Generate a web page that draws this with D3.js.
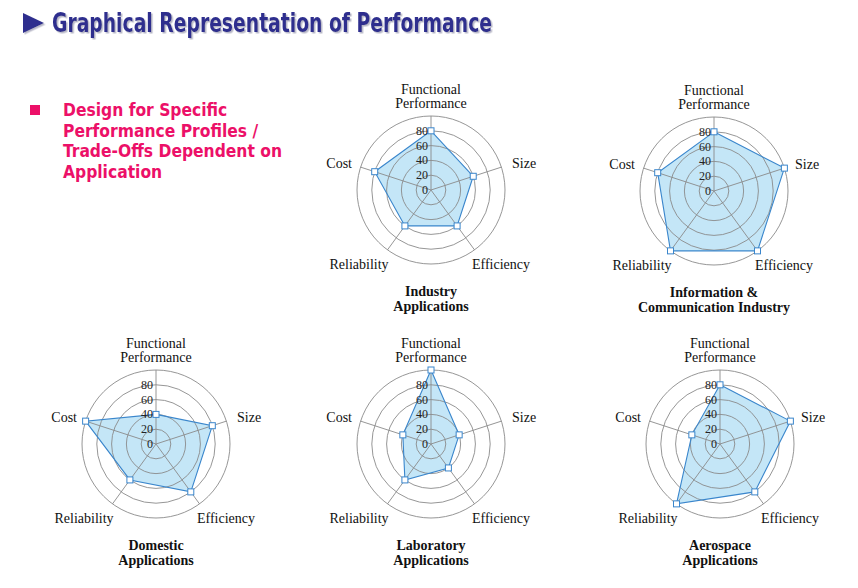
<!DOCTYPE html>
<html>
<head>
<meta charset="utf-8">
<script src="https://cdn.jsdelivr.net/npm/d3@7"></script>
<style>
  html, body { margin: 0; padding: 0; background: #fff; }
  svg { display: block; }
</style>
</head>
<body>
<svg id="chart" width="858" height="588"></svg>
<script>
// ---- data ----
const axisLabels = [["Functional", "Performance"], ["Size"], ["Efficiency"], ["Reliability"], ["Cost"]];
const tickValues = [0, 20, 40, 60, 80];
const ringValues = [20, 40, 60, 80, 100];
const chartTitles = [
  ["Industry", "Applications"],
  ["Information &", "Communication Industry"],
  ["Domestic", "Applications"],
  ["Laboratory", "Applications"],
  ["Aerospace", "Applications"]
];
const industryValues   = [80, 60, 60, 60, 80];
const ictValues        = [80, 100, 100, 100, 80];
const domesticValues   = [40, 80, 80, 60, 100];
const laboratoryValues = [100, 40, 40, 60, 40];
const aerospaceValues  = [80, 100, 80, 100, 40];
const headline = "Graphical Representation of Performance";
const bulletLines = ["Design for Specific", "Performance Profiles /", "Trade-Offs Dependent on", "Application"];

// ---- layout ----
const series = [industryValues, ictValues, domesticValues, laboratoryValues, aerospaceValues];
const centers = [[431, 190], [714, 191], [156, 444], [431, 444], [720, 444]];

const svg = d3.select("#chart");
const navy = "#2e2f8e";
const pink = "#ec1068";

const defs = svg.append("defs");
const f = defs.append("filter").attr("id", "shadow").attr("x", "-5%").attr("y", "-20%").attr("width", "110%").attr("height", "150%");
f.append("feDropShadow").attr("dx", 1.5).attr("dy", 1.5).attr("stdDeviation", 0.6)
  .attr("flood-color", "#9a9ab0").attr("flood-opacity", 0.7);

// headline
svg.append("path")
  .attr("d", "M23,13 L44,23 L23,33 Z")
  .attr("fill", navy).attr("filter", "url(#shadow)");
svg.append("text")
  .attr("x", 52).attr("y", 32)
  .attr("fill", navy)
  .attr("filter", "url(#shadow)")
  .attr("font-family", "'DejaVu Sans Condensed', 'DejaVu Sans', sans-serif")
  .attr("font-weight", "bold").attr("font-size", 27)
  .attr("textLength", 440).attr("lengthAdjust", "spacingAndGlyphs")
  .text(headline);

// bullet
svg.append("rect").attr("x", 30).attr("y", 105).attr("width", 10).attr("height", 10).attr("fill", pink);
svg.append("g").selectAll("text").data(bulletLines).join("text")
  .attr("x", 63).attr("y", (d, i) => 116 + i * 20.5)
  .attr("fill", pink)
  .attr("font-family", "'DejaVu Sans Condensed', 'DejaVu Sans', sans-serif")
  .attr("font-weight", "bold").attr("font-size", 17.3)
  .text(d => d);

// radar
const r = d3.scaleLinear().domain([0, 100]).range([0, 74]);
const angle = d3.scaleLinear().domain([0, axisLabels.length]).range([0, 2 * Math.PI]);
const pt = (i, v) => [r(v) * Math.sin(angle(i)), -r(v) * Math.cos(angle(i))];
const serif = "'Liberation Serif', 'Times New Roman', serif";

// label layout per axis: [dx, dy, anchor]
const labelLayout = [
  [0, -96, "middle"],
  [81, -22, "start"],
  [70, 79, "middle"],
  [-72, 79, "middle"],
  [-79, -22, "end"]
];

series.forEach((vals, k) => {
  const [cx, cy] = centers[k];
  const g = svg.append("g").attr("transform", `translate(${cx},${cy})`);

  // fill
  g.append("polygon")
    .attr("points", vals.map((v, i) => pt(i, v).join(",")).join(" "))
    .attr("fill", "#c4e6f7");

  // rings
  g.selectAll("circle.ring").data(ringValues).join("circle")
    .attr("class", "ring")
    .attr("r", d => r(d))
    .attr("fill", "none").attr("stroke", "#8a8a8a").attr("stroke-width", 0.9);

  // spokes
  g.selectAll("line.spoke").data(axisLabels).join("line")
    .attr("class", "spoke")
    .attr("x1", 0).attr("y1", 0)
    .attr("x2", (d, i) => pt(i, 100)[0]).attr("y2", (d, i) => pt(i, 100)[1])
    .attr("stroke", "#8a8a8a").attr("stroke-width", 0.9);

  // outline
  g.append("polygon")
    .attr("points", vals.map((v, i) => pt(i, v).join(",")).join(" "))
    .attr("fill", "none").attr("stroke", "#3a86cc").attr("stroke-width", 1.1);

  // markers
  g.selectAll("rect.mk").data(vals).join("rect")
    .attr("class", "mk")
    .attr("x", (v, i) => pt(i, v)[0] - 3).attr("y", (v, i) => pt(i, v)[1] - 3)
    .attr("width", 6).attr("height", 6)
    .attr("fill", "#fff").attr("stroke", "#3a86cc").attr("stroke-width", 1);

  // tick labels
  g.selectAll("text.tick").data(tickValues).join("text")
    .attr("class", "tick")
    .attr("x", -3).attr("y", d => -r(d) + 4)
    .attr("text-anchor", "end")
    .attr("font-family", serif).attr("font-size", 12).attr("fill", "#222")
    .text(d => d);

  // axis labels
  axisLabels.forEach((lines, i) => {
    const [dx, dy, anchor] = labelLayout[i];
    g.append("g").selectAll("text").data(lines).join("text")
      .attr("x", dx).attr("y", (d, j) => dy + j * 14)
      .attr("text-anchor", anchor)
      .attr("font-family", serif).attr("font-size", 14).attr("fill", "#111")
      .text(d => d);
  });

  // chart title
  g.append("g").selectAll("text").data(chartTitles[k]).join("text")
    .attr("x", 0).attr("y", (d, j) => 106 + j * 15)
    .attr("text-anchor", "middle")
    .attr("font-family", serif).attr("font-weight", "bold").attr("font-size", 14).attr("fill", "#111")
    .text(d => d);
});
</script>
</body>
</html>
